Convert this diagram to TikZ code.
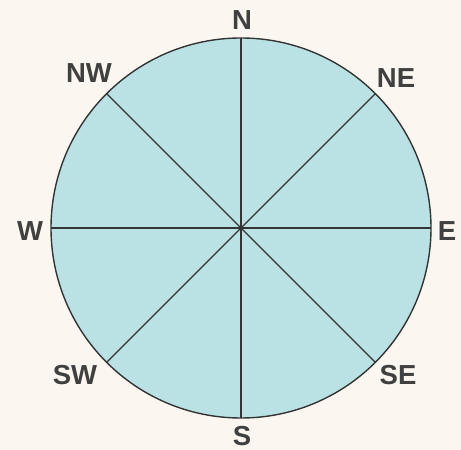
\documentclass[tikz,border=0pt]{standalone}
\usepackage{fontspec}
\setmainfont{Liberation Sans}
\usetikzlibrary{calc}
\definecolor{bg}{HTML}{FBF7F0}
\definecolor{disc}{HTML}{BAE2E5}
\definecolor{ink}{HTML}{343434}
\definecolor{txt}{HTML}{404040}
\begin{document}
\begin{tikzpicture}[x=1pt,y=1pt,
  lbl/.style={font=\bfseries\fontsize{27.5}{27.5}\selectfont, text=txt, inner sep=0pt},
  spoke/.style={draw=ink, line width=1.4pt}]
\fill[bg] (0,0) rectangle (461,450);
\useasboundingbox (0,0) rectangle (461,450);
\coordinate (c) at (241,222);
\fill[disc] (c) circle (190);
\foreach \a/\n in {90/n,45/ne,0/e,-45/se,-90/s,-135/sw,180/w,135/nw}
  \coordinate (\n) at ($(c)+(\a:190)$);
\draw[spoke] (n) -- (s);
\draw[spoke] (e) -- (w);
\draw[spoke] (ne) -- (sw);
\draw[spoke] (nw) -- (se);
\draw[ink, line width=1.4pt] (c) circle (190);
\node[lbl] (ln) at (242,430) {N};
\node[lbl] (lne) at (396,372) {NE};
\node[lbl] (le) at (447,219) {E};
\node[lbl] (lse) at (398,75) {SE};
\node[lbl] (ls) at (242,14) {S};
\node[lbl] (lsw) at (75,75) {SW};
\node[lbl] (lw) at (30,219) {W};
\node[lbl] (lnw) at (89,377) {NW};
\end{tikzpicture}
\end{document}
